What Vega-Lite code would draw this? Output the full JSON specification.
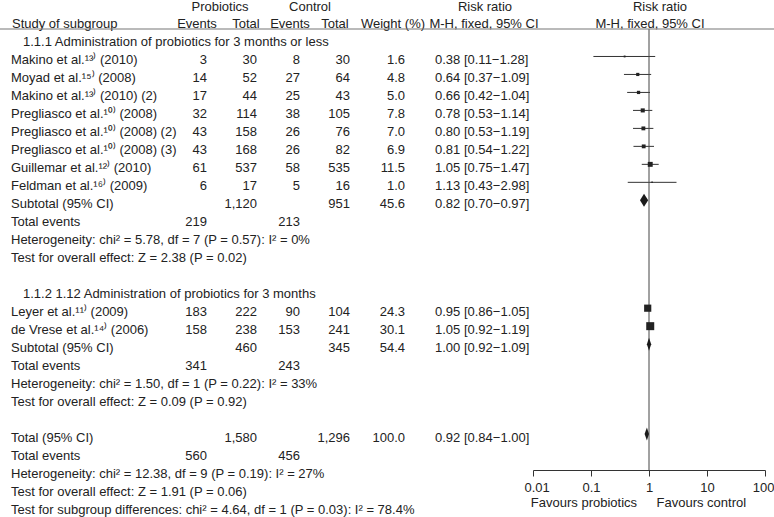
{
"$schema":"https://vega.github.io/schema/vega-lite/v6.json",
"width":774,"height":470,"autosize":"none",
"padding":{"left":0,"top":0,"right":0,"bottom":47},
"background":"#ffffff",
"config":{"view":{"stroke":null},"text":{"font":"Liberation Sans","fontSize":13,"color":"#222222","baseline":"middle","dy":4}},
"datasets":{
"rows":[
{"row":0,"kind":"section","label":"1.1.1 Administration of probiotics for 3 months or less"},
{"row":1,"kind":"study","label":"Makino et al.¹³⁾ (2010)","pe":3,"pt":30,"ce":8,"ct":30,"w":1.6,"rr":"0.38 [0.11−1.28]","est":0.38,"lo":0.11,"hi":1.28},
{"row":2,"kind":"study","label":"Moyad et al.¹⁵⁾ (2008)","pe":14,"pt":52,"ce":27,"ct":64,"w":4.8,"rr":"0.64 [0.37−1.09]","est":0.64,"lo":0.37,"hi":1.09},
{"row":3,"kind":"study","label":"Makino et al.¹³⁾ (2010) (2)","pe":17,"pt":44,"ce":25,"ct":43,"w":5.0,"rr":"0.66 [0.42−1.04]","est":0.66,"lo":0.42,"hi":1.04},
{"row":4,"kind":"study","label":"Pregliasco et al.¹⁰⁾ (2008)","pe":32,"pt":114,"ce":38,"ct":105,"w":7.8,"rr":"0.78 [0.53−1.14]","est":0.78,"lo":0.53,"hi":1.14},
{"row":5,"kind":"study","label":"Pregliasco et al.¹⁰⁾ (2008) (2)","pe":43,"pt":158,"ce":26,"ct":76,"w":7.0,"rr":"0.80 [0.53−1.19]","est":0.80,"lo":0.53,"hi":1.19},
{"row":6,"kind":"study","label":"Pregliasco et al.¹⁰⁾ (2008) (3)","pe":43,"pt":168,"ce":26,"ct":82,"w":6.9,"rr":"0.81 [0.54−1.22]","est":0.81,"lo":0.54,"hi":1.22},
{"row":7,"kind":"study","label":"Guillemar et al.¹²⁾ (2010)","pe":61,"pt":537,"ce":58,"ct":535,"w":11.5,"rr":"1.05 [0.75−1.47]","est":1.05,"lo":0.75,"hi":1.47},
{"row":8,"kind":"study","label":"Feldman et al.¹⁶⁾ (2009)","pe":6,"pt":17,"ce":5,"ct":16,"w":1.0,"rr":"1.13 [0.43−2.98]","est":1.13,"lo":0.43,"hi":2.98},
{"row":9,"kind":"pooled","label":"Subtotal (95% CI)","pt":1120,"ct":951,"w":45.6,"rr":"0.82 [0.70−0.97]","est":0.82,"lo":0.70,"hi":0.97},
{"row":10,"kind":"info","label":"Total events","pe":219,"ce":213},
{"row":11,"kind":"info","label":"Heterogeneity: chi² = 5.78, df = 7 (P = 0.57): I² = 0%"},
{"row":12,"kind":"info","label":"Test for overall effect: Z = 2.38 (P = 0.02)"},
{"row":14,"kind":"section","label":"1.1.2 1.12 Administration of probiotics for 3 months"},
{"row":15,"kind":"study","label":"Leyer et al.¹¹⁾ (2009)","pe":183,"pt":222,"ce":90,"ct":104,"w":24.3,"rr":"0.95 [0.86−1.05]","est":0.95,"lo":0.86,"hi":1.05},
{"row":16,"kind":"study","label":"de Vrese et al.¹⁴⁾ (2006)","pe":158,"pt":238,"ce":153,"ct":241,"w":30.1,"rr":"1.05 [0.92−1.19]","est":1.05,"lo":0.92,"hi":1.19},
{"row":17,"kind":"pooled","label":"Subtotal (95% CI)","pt":460,"ct":345,"w":54.4,"rr":"1.00 [0.92−1.09]","est":1.00,"lo":0.92,"hi":1.09},
{"row":18,"kind":"info","label":"Total events","pe":341,"ce":243},
{"row":19,"kind":"info","label":"Heterogeneity: chi² = 1.50, df = 1 (P = 0.22): I² = 33%"},
{"row":20,"kind":"info","label":"Test for overall effect: Z = 0.09 (P = 0.92)"},
{"row":22,"kind":"pooled","label":"Total (95% CI)","pt":1580,"ct":1296,"w":100.0,"rr":"0.92 [0.84−1.00]","est":0.92,"lo":0.84,"hi":1.00},
{"row":23,"kind":"info","label":"Total events","pe":560,"ce":456},
{"row":24,"kind":"info","label":"Heterogeneity: chi² = 12.38, df = 9 (P = 0.19): I² = 27%"},
{"row":25,"kind":"info","label":"Test for overall effect: Z = 1.91 (P = 0.06)"},
{"row":26,"kind":"info","label":"Test for subgroup differences: chi² = 4.64, df = 1 (P = 0.03): I² = 78.4%"}
],
"headers":[
{"key":"prob","t":"Probiotics","row":-2},
{"key":"ctrl","t":"Control","row":-2},
{"key":"rr1","t":"Risk ratio","row":-2},
{"key":"rr2","t":"Risk ratio","row":-2},
{"key":"study","t":"Study of subgroup","row":-1},
{"key":"pe","t":"Events","row":-1},
{"key":"pt","t":"Total","row":-1},
{"key":"ce","t":"Events","row":-1},
{"key":"ct","t":"Total","row":-1},
{"key":"w","t":"Weight (%)","row":-1},
{"key":"mh1","t":"M-H, fixed, 95% CI","row":-1},
{"key":"mh2","t":"M-H, fixed, 95% CI","row":-1}
]
},
"resolve":{"scale":{"x":"independent"}},
"layer":[
{"data":{"name":"rows"},"transform":[{"filter":"datum.kind === 'study'"}],"mark":{"type":"rule","color":"#333333","strokeWidth":1},"encoding":{"x":{"field":"lo","type":"quantitative","scale":{"type":"log","domain":[0.01,100],"range":[533,765],"nice":false},"axis":{"orient":"bottom","values":[0.01,0.1,1,10,100],"format":"~g","grid":false,"domainColor":"#333333","tickColor":"#333333","tickSize":6,"labelFont":"Liberation Sans","labelFontSize":13,"labelColor":"#222222","labelPadding":5,"labelFlush":true,"labelFlushOffset":9,"labelOverlap":false,"title":"Favours probiotics\u2003\u2002Favours control","titleFont":"Liberation Sans","titleFontSize":13,"titleFontWeight":"normal","titleColor":"#222222","titlePadding":2,"titleX":638,"titleAlign":"center","zindex":1}},"x2":{"field":"hi"},"y":{"field":"row","type":"quantitative","scale":{"domain":[-2.141,24],"reverse":true,"nice":false,"zero":false},"axis":null}}},
{"data":{"values":[{"line":"no effect"}]},"mark":{"type":"rule","color":"#444444","strokeWidth":1},"encoding":{"x":{"datum":1,"type":"quantitative","scale":{"type":"log","domain":[0.01,100],"range":[533,765],"nice":false},"axis":null},"y":{"datum":-0.528,"type":"quantitative","scale":{"domain":[-2.141,24],"reverse":true,"nice":false,"zero":false},"axis":null},"y2":{"datum":24}}},
{"data":{"name":"rows"},"transform":[{"filter":"datum.kind === 'study'"}],"mark":{"type":"point","shape":"square","filled":true,"color":"#222222","opacity":1},"encoding":{"x":{"field":"est","type":"quantitative","scale":{"type":"log","domain":[0.01,100],"range":[533,765],"nice":false},"axis":null},"y":{"field":"row","type":"quantitative","scale":{"domain":[-2.141,24],"reverse":true,"nice":false,"zero":false},"axis":null},"size":{"field":"w","type":"quantitative","scale":{"domain":[0,30.1],"range":[0,64]},"legend":null}}},
{"data":{"name":"rows"},"transform":[{"filter":"datum.kind === 'pooled'"}],"mark":{"type":"point","filled":true,"color":"#1a1a1a","opacity":1,"strokeWidth":0},"encoding":{"x":{"field":"est","type":"quantitative","scale":{"type":"log","domain":[0.01,100],"range":[533,765],"nice":false},"axis":null},"y":{"field":"row","type":"quantitative","scale":{"domain":[-2.141,24],"reverse":true,"nice":false,"zero":false},"axis":null},"shape":{"field":"row","type":"nominal","scale":{"domain":[9,17,22],"range":["M-0.615,0L0,-1L0.646,0L0,1Z","M-0.323,0L0,-1L0.338,0L0,1Z","M-0.354,0L0,-1L0.323,0L0,1Z"]},"legend":null},"size":{"value":169}}},
{"data":{"name":"rows"},"transform":[{"filter":"datum.kind === 'section'"}],"mark":{"type":"text","align":"left"},"encoding":{"x":{"datum":23,"type":"quantitative","scale":{"domain":[0,774],"range":[0,774],"nice":false,"zero":false},"axis":null},"y":{"field":"row","type":"quantitative","scale":{"domain":[-2.141,24],"reverse":true,"nice":false,"zero":false},"axis":null},"text":{"field":"label"}}},
{"data":{"name":"rows"},"transform":[{"filter":"datum.kind !== 'section'"}],"mark":{"type":"text","align":"left"},"encoding":{"x":{"datum":11,"type":"quantitative","scale":{"domain":[0,774],"range":[0,774],"nice":false,"zero":false},"axis":null},"y":{"field":"row","type":"quantitative","scale":{"domain":[-2.141,24],"reverse":true,"nice":false,"zero":false},"axis":null},"text":{"field":"label"}}},
{"data":{"name":"rows"},"transform":[{"filter":"isValid(datum.pe)"}],"mark":{"type":"text","align":"right"},"encoding":{"x":{"datum":207,"type":"quantitative","scale":{"domain":[0,774],"range":[0,774],"nice":false,"zero":false},"axis":null},"y":{"field":"row","type":"quantitative","scale":{"domain":[-2.141,24],"reverse":true,"nice":false,"zero":false},"axis":null},"text":{"field":"pe","type":"quantitative","format":","}}},
{"data":{"name":"rows"},"transform":[{"filter":"isValid(datum.pt)"}],"mark":{"type":"text","align":"right"},"encoding":{"x":{"datum":257,"type":"quantitative","scale":{"domain":[0,774],"range":[0,774],"nice":false,"zero":false},"axis":null},"y":{"field":"row","type":"quantitative","scale":{"domain":[-2.141,24],"reverse":true,"nice":false,"zero":false},"axis":null},"text":{"field":"pt","type":"quantitative","format":","}}},
{"data":{"name":"rows"},"transform":[{"filter":"isValid(datum.ce)"}],"mark":{"type":"text","align":"right"},"encoding":{"x":{"datum":300,"type":"quantitative","scale":{"domain":[0,774],"range":[0,774],"nice":false,"zero":false},"axis":null},"y":{"field":"row","type":"quantitative","scale":{"domain":[-2.141,24],"reverse":true,"nice":false,"zero":false},"axis":null},"text":{"field":"ce","type":"quantitative","format":","}}},
{"data":{"name":"rows"},"transform":[{"filter":"isValid(datum.ct)"}],"mark":{"type":"text","align":"right"},"encoding":{"x":{"datum":350,"type":"quantitative","scale":{"domain":[0,774],"range":[0,774],"nice":false,"zero":false},"axis":null},"y":{"field":"row","type":"quantitative","scale":{"domain":[-2.141,24],"reverse":true,"nice":false,"zero":false},"axis":null},"text":{"field":"ct","type":"quantitative","format":","}}},
{"data":{"name":"rows"},"transform":[{"filter":"isValid(datum.w)"}],"mark":{"type":"text","align":"right"},"encoding":{"x":{"datum":405,"type":"quantitative","scale":{"domain":[0,774],"range":[0,774],"nice":false,"zero":false},"axis":null},"y":{"field":"row","type":"quantitative","scale":{"domain":[-2.141,24],"reverse":true,"nice":false,"zero":false},"axis":null},"text":{"field":"w","type":"quantitative","format":".1f"}}},
{"data":{"name":"rows"},"transform":[{"filter":"isValid(datum.rr)"}],"mark":{"type":"text","align":"left"},"encoding":{"x":{"datum":435,"type":"quantitative","scale":{"domain":[0,774],"range":[0,774],"nice":false,"zero":false},"axis":null},"y":{"field":"row","type":"quantitative","scale":{"domain":[-2.141,24],"reverse":true,"nice":false,"zero":false},"axis":null},"text":{"field":"rr"}}},
{"data":{"name":"headers"},"transform":[{"filter":"datum.key === 'prob'"}],"mark":{"type":"text","align":"center"},"encoding":{"x":{"datum":220,"type":"quantitative","scale":{"domain":[0,774],"range":[0,774],"nice":false,"zero":false},"axis":null},"y":{"field":"row","type":"quantitative","scale":{"domain":[-2.141,24],"reverse":true,"nice":false,"zero":false},"axis":null},"text":{"field":"t"}}},
{"data":{"name":"headers"},"transform":[{"filter":"datum.key === 'ctrl'"}],"mark":{"type":"text","align":"center"},"encoding":{"x":{"datum":310,"type":"quantitative","scale":{"domain":[0,774],"range":[0,774],"nice":false,"zero":false},"axis":null},"y":{"field":"row","type":"quantitative","scale":{"domain":[-2.141,24],"reverse":true,"nice":false,"zero":false},"axis":null},"text":{"field":"t"}}},
{"data":{"name":"headers"},"transform":[{"filter":"datum.key === 'rr1'"}],"mark":{"type":"text","align":"center"},"encoding":{"x":{"datum":485,"type":"quantitative","scale":{"domain":[0,774],"range":[0,774],"nice":false,"zero":false},"axis":null},"y":{"field":"row","type":"quantitative","scale":{"domain":[-2.141,24],"reverse":true,"nice":false,"zero":false},"axis":null},"text":{"field":"t"}}},
{"data":{"name":"headers"},"transform":[{"filter":"datum.key === 'rr2'"}],"mark":{"type":"text","align":"center"},"encoding":{"x":{"datum":660,"type":"quantitative","scale":{"domain":[0,774],"range":[0,774],"nice":false,"zero":false},"axis":null},"y":{"field":"row","type":"quantitative","scale":{"domain":[-2.141,24],"reverse":true,"nice":false,"zero":false},"axis":null},"text":{"field":"t"}}},
{"data":{"name":"headers"},"transform":[{"filter":"datum.key === 'study'"}],"mark":{"type":"text","align":"left","dy":3},"encoding":{"x":{"datum":12,"type":"quantitative","scale":{"domain":[0,774],"range":[0,774],"nice":false,"zero":false},"axis":null},"y":{"field":"row","type":"quantitative","scale":{"domain":[-2.141,24],"reverse":true,"nice":false,"zero":false},"axis":null},"text":{"field":"t"}}},
{"data":{"name":"headers"},"transform":[{"filter":"datum.key === 'pe'"}],"mark":{"type":"text","align":"center","dy":3},"encoding":{"x":{"datum":197,"type":"quantitative","scale":{"domain":[0,774],"range":[0,774],"nice":false,"zero":false},"axis":null},"y":{"field":"row","type":"quantitative","scale":{"domain":[-2.141,24],"reverse":true,"nice":false,"zero":false},"axis":null},"text":{"field":"t"}}},
{"data":{"name":"headers"},"transform":[{"filter":"datum.key === 'pt'"}],"mark":{"type":"text","align":"center","dy":3},"encoding":{"x":{"datum":246,"type":"quantitative","scale":{"domain":[0,774],"range":[0,774],"nice":false,"zero":false},"axis":null},"y":{"field":"row","type":"quantitative","scale":{"domain":[-2.141,24],"reverse":true,"nice":false,"zero":false},"axis":null},"text":{"field":"t"}}},
{"data":{"name":"headers"},"transform":[{"filter":"datum.key === 'ce'"}],"mark":{"type":"text","align":"center","dy":3},"encoding":{"x":{"datum":290,"type":"quantitative","scale":{"domain":[0,774],"range":[0,774],"nice":false,"zero":false},"axis":null},"y":{"field":"row","type":"quantitative","scale":{"domain":[-2.141,24],"reverse":true,"nice":false,"zero":false},"axis":null},"text":{"field":"t"}}},
{"data":{"name":"headers"},"transform":[{"filter":"datum.key === 'ct'"}],"mark":{"type":"text","align":"center","dy":3},"encoding":{"x":{"datum":335,"type":"quantitative","scale":{"domain":[0,774],"range":[0,774],"nice":false,"zero":false},"axis":null},"y":{"field":"row","type":"quantitative","scale":{"domain":[-2.141,24],"reverse":true,"nice":false,"zero":false},"axis":null},"text":{"field":"t"}}},
{"data":{"name":"headers"},"transform":[{"filter":"datum.key === 'w'"}],"mark":{"type":"text","align":"center","dy":3},"encoding":{"x":{"datum":393,"type":"quantitative","scale":{"domain":[0,774],"range":[0,774],"nice":false,"zero":false},"axis":null},"y":{"field":"row","type":"quantitative","scale":{"domain":[-2.141,24],"reverse":true,"nice":false,"zero":false},"axis":null},"text":{"field":"t"}}},
{"data":{"name":"headers"},"transform":[{"filter":"datum.key === 'mh1'"}],"mark":{"type":"text","align":"center","dy":3},"encoding":{"x":{"datum":484,"type":"quantitative","scale":{"domain":[0,774],"range":[0,774],"nice":false,"zero":false},"axis":null},"y":{"field":"row","type":"quantitative","scale":{"domain":[-2.141,24],"reverse":true,"nice":false,"zero":false},"axis":null},"text":{"field":"t"}}},
{"data":{"name":"headers"},"transform":[{"filter":"datum.key === 'mh2'"}],"mark":{"type":"text","align":"center","dy":3},"encoding":{"x":{"datum":650,"type":"quantitative","scale":{"domain":[0,774],"range":[0,774],"nice":false,"zero":false},"axis":null},"y":{"field":"row","type":"quantitative","scale":{"domain":[-2.141,24],"reverse":true,"nice":false,"zero":false},"axis":null},"text":{"field":"t"}}},
{"data":{"values":[{"line":"header rule"}]},"mark":{"type":"rule","color":"#777777","strokeWidth":1.2},"encoding":{"y":{"datum":-0.528,"type":"quantitative","scale":{"domain":[-2.141,24],"reverse":true,"nice":false,"zero":false},"axis":null}}}
]
}
